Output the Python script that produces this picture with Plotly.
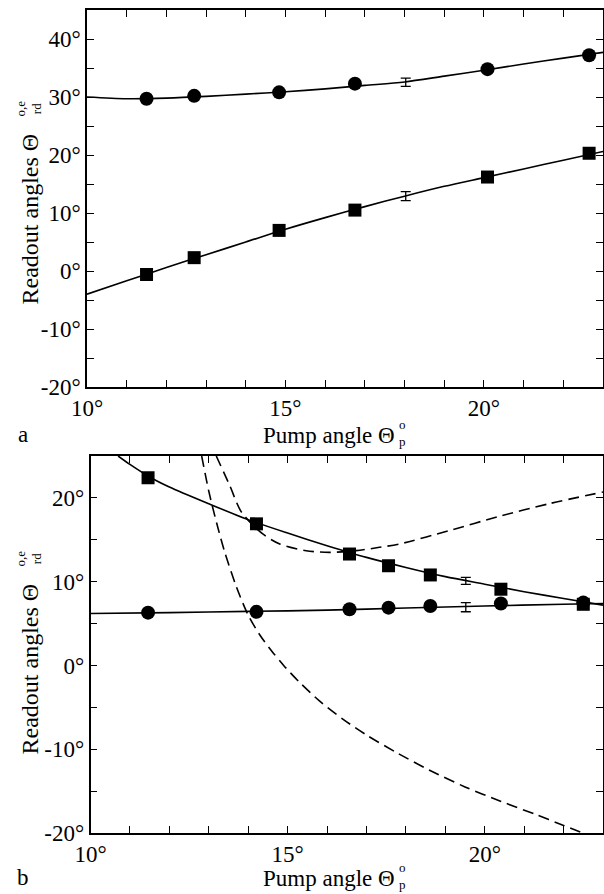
import plotly.graph_objects as go

# ---------------- data ----------------
# panel a
a_x = [11.50, 12.70, 14.84, 16.75, 20.09, 22.65]
a_circ = [29.7, 30.2, 30.8, 32.3, 34.8, 37.2]
a_sq = [-0.6, 2.3, 7.0, 10.5, 16.2, 20.3]
a_err_x = [18.03, 18.03]
a_err_y = [32.55, 12.9]
a_err_e = [0.72, 0.78]
a_curve_x = [10, 11, 12, 13, 14, 15, 16, 17, 18, 19, 20, 21, 22, 23]
a_curve_circ = [30.0, 29.7, 29.8, 30.1, 30.5, 30.9, 31.4, 32.0, 32.6, 33.6, 34.6, 35.7, 36.7, 37.7]
a_curve_sq = [-4.0, -1.7, 0.6, 2.8, 5.0, 7.2, 9.2, 11.1, 12.9, 14.6, 16.1, 17.6, 19.1, 20.6]

# panel b
b_x = [11.46, 14.21, 16.57, 17.56, 18.62, 20.41, 22.50]
b_sq = [22.4, 16.9, 13.3, 11.9, 10.8, 9.1, 7.3]
b_circ = [6.3, 6.4, 6.7, 6.9, 7.1, 7.4, 7.5]
b_err_x = [19.52, 19.52]
b_err_y = [10.1, 6.95]
b_err_e = [0.42, 0.54]
b_curve_sq_x = [10.70, 11.0, 11.5, 12, 13, 14, 15, 16, 17, 18, 19, 20, 21, 22, 23]
b_curve_sq = [25.0, 24.0, 22.5, 21.3, 19.3, 17.4, 15.8, 14.3, 12.9, 11.7, 10.6, 9.7, 8.8, 8.0, 7.2]
b_curve_circ_x = [10, 12, 14, 16, 18, 20, 22, 23]
b_curve_circ = [6.2, 6.3, 6.45, 6.6, 6.85, 7.1, 7.3, 7.4]
b_dash1_x = [12.82, 13.0, 13.2, 13.4, 13.7, 14.0, 14.3, 14.6, 14.9, 15.3, 15.8, 16.4, 17.0, 17.8, 18.6, 19.5, 20.4, 21.3, 22.0, 22.48]
b_dash1_y = [25.0, 20.8, 17.0, 13.6, 9.4, 6.0, 3.6, 1.7, 0.0, -2.0, -4.2, -6.4, -8.3, -10.5, -12.5, -14.5, -16.2, -17.8, -19.1, -20.0]
b_dash2_x = [13.19, 13.53, 13.83, 14.37, 14.80, 15.47, 16.06, 16.74, 17.33, 17.84, 19.10, 20.37, 21.63, 23.0]
b_dash2_y = [25.0, 21.5, 18.3, 15.7, 14.5, 13.7, 13.5, 13.7, 14.1, 14.5, 16.1, 17.8, 19.3, 20.7]

# tick labels
x_tickvals = list(range(10, 24))
x_ticktext = ["10°" if v == 10 else "15°" if v == 15 else "20°" if v == 20 else "" for v in x_tickvals]
ya_tickvals = list(range(-20, 46, 5))
ya_ticktext = [(f"{v}°" if v % 10 == 0 else "") for v in ya_tickvals]
yb_tickvals = list(range(-20, 26, 5))
yb_ticktext = [(f"{v}°" if v % 10 == 0 else "") for v in yb_tickvals]

x_title = "Pump angle Θ"
x_title_scripts = "o<br>p"
y_title = "Readout angles Θ"
y_title_scripts = "o,e<br>rd"
panel_letters = ["a", "b"]

# ---------------- figure ----------------
W, H = 604, 894
FONT = "Liberation Serif"
BLACK = "black"

fig = go.Figure()

def line(x, y, xa, ya, dash=None):
    fig.add_trace(go.Scatter(x=x, y=y, xaxis=xa, yaxis=ya, mode="lines",
                             line=dict(color=BLACK, width=1.6, shape="spline", smoothing=0.8,
                                       dash=dash), showlegend=False, hoverinfo="skip"))

def marks(x, y, xa, ya, symbol, size):
    fig.add_trace(go.Scatter(x=x, y=y, xaxis=xa, yaxis=ya, mode="markers",
                             marker=dict(symbol=symbol, size=size, color=BLACK),
                             showlegend=False))

def errs(x, y, e, xa, ya):
    fig.add_trace(go.Scatter(x=x, y=y, xaxis=xa, yaxis=ya, mode="markers",
                             marker=dict(size=1, color="rgba(0,0,0,0)"),
                             error_y=dict(type="data", array=e, color=BLACK, thickness=1.3, width=5),
                             showlegend=False))

# panel a
line(a_curve_x, a_curve_circ, "x", "y")
line(a_curve_x, a_curve_sq, "x", "y")
marks(a_x, a_circ, "x", "y", "circle", 14)
marks(a_x, a_sq, "x", "y", "square", 13)
errs(a_err_x, a_err_y, a_err_e, "x", "y")

# panel b
line(b_dash1_x, b_dash1_y, "x2", "y2", dash="11px,6px")
line(b_dash2_x, b_dash2_y, "x2", "y2", dash="11px,6px")
line(b_curve_sq_x, b_curve_sq, "x2", "y2")
line(b_curve_circ_x, b_curve_circ, "x2", "y2")
marks(b_x, b_circ, "x2", "y2", "circle", 14)
marks(b_x, b_sq, "x2", "y2", "square", 13)
errs(b_err_x, b_err_y, b_err_e, "x2", "y2")

def px_x(v):
    return v / W

def px_y(v):
    return 1 - v / H

common_axis = dict(showline=True, linecolor=BLACK, linewidth=1.5, mirror="ticks",
                   ticks="inside", ticklen=7, tickwidth=1.3, tickcolor=BLACK,
                   showgrid=False, zeroline=False, tickmode="array", automargin=False,
                   tickfont=dict(family=FONT, size=23, color=BLACK))

fig.update_layout(
    width=W, height=H, margin=dict(l=0, r=0, t=0, b=0, autoexpand=False),
    paper_bgcolor="white", plot_bgcolor="white", showlegend=False,
    font=dict(family=FONT, color=BLACK),
    xaxis=dict(domain=[px_x(87), px_x(603)], anchor="y", range=[10, 23],
               tickvals=x_tickvals, ticktext=x_ticktext, **common_axis),
    yaxis=dict(domain=[px_y(387), px_y(10)], anchor="x", range=[-20, 45],
               tickvals=ya_tickvals, ticktext=ya_ticktext, **common_axis),
    xaxis2=dict(domain=[px_x(90.5), px_x(603)], anchor="y2", range=[10, 23],
                tickvals=x_tickvals, ticktext=x_ticktext, **common_axis),
    yaxis2=dict(domain=[px_y(833), px_y(456)], anchor="x2", range=[-20, 25],
                tickvals=yb_tickvals, ticktext=yb_ticktext, **common_axis),
)

ann = []
TF = dict(family=FONT, size=23, color=BLACK)
YF = dict(family=FONT, size=24, color=BLACK)
SF = dict(family=FONT, size=13, color=BLACK)
for i, (ty, yb) in enumerate([(435, 307), (878, 757)]):
    # x title
    ann.append(dict(text=x_title, x=px_x(397), y=px_y(ty), xref="paper", yref="paper",
                    xanchor="right", yanchor="middle", showarrow=False, font=TF))
    ann.append(dict(text=x_title_scripts, x=px_x(398), y=px_y(ty - 2), xref="paper", yref="paper",
                    xanchor="left", yanchor="middle", showarrow=False, font=SF, borderpad=0))
    # y title (rotated)
    ann.append(dict(text=y_title, x=px_x(29), y=px_y(yb), xref="paper", yref="paper",
                    xanchor="center", yanchor="bottom", textangle=-90, showarrow=False, font=YF))
    ann.append(dict(text=y_title_scripts, x=px_x(28.5), y=px_y(yb - 189), xref="paper", yref="paper",
                    xanchor="center", yanchor="bottom", textangle=-90, showarrow=False, font=SF,
                    borderpad=0))
    # panel letter
    ann.append(dict(text=panel_letters[i], x=px_x(23), y=px_y(ty - 1), xref="paper", yref="paper",
                    xanchor="center", yanchor="middle", showarrow=False, font=TF))

fig.update_layout(annotations=ann)
fig.write_html("out.html")
